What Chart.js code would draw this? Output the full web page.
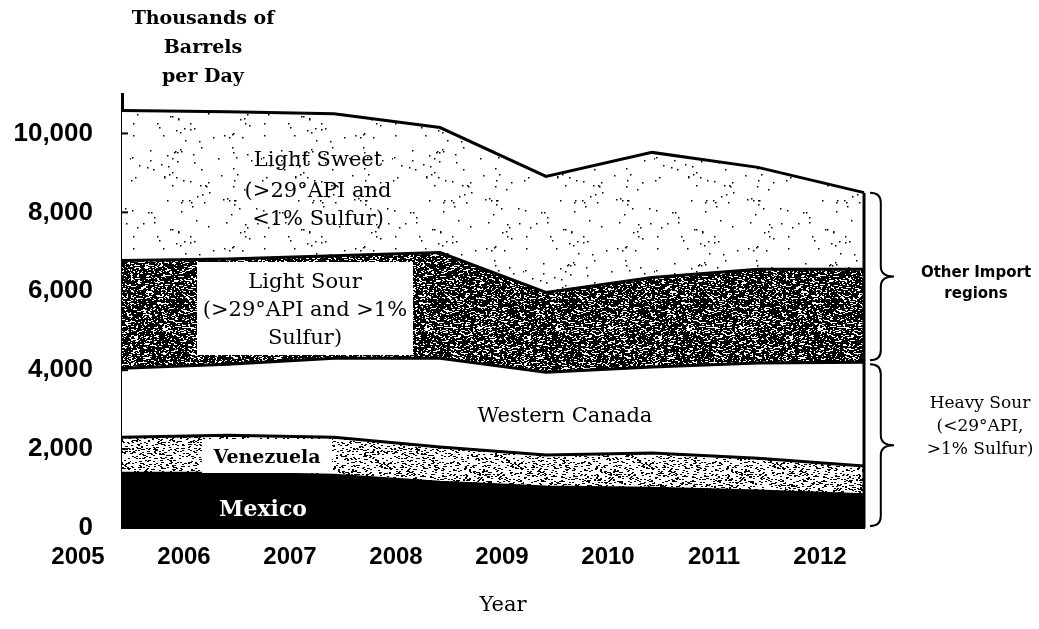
<!DOCTYPE html>
<html>
<head>
<meta charset="utf-8">
<script src="https://cdn.jsdelivr.net/npm/chart.js@4.4.0/dist/chart.umd.min.js"></script>
<style>
  body { margin: 0; background: #fff; }
  #wrap { width: 1039px; height: 629px; }
</style>
</head>
<body>
<div id="wrap"><canvas id="crudeChart" width="1039" height="629"></canvas></div>
<script>
// values, thousands of barrels per day
const years = ['2005', '2006', '2007', '2008', '2009', '2010', '2011', '2012'];
const mexico = [1390, 1390, 1340, 1160, 1040, 1010, 940, 840];
const venezuela = [910, 960, 960, 890, 810, 890, 830, 730];
const westernCanada = [1750, 1800, 2000, 2250, 2100, 2180, 2410, 2630];
const lightSour = [2730, 2670, 2600, 2680, 2020, 2270, 2380, 2360];
const lightSweet = [3800, 3730, 3600, 3170, 2940, 3170, 2580, 1940];

const yTicks = [0, 2000, 4000, 6000, 8000, 10000];
const yMax = 11000;

// stipple textures for the scanned look (seeded, so every run is the same)
function stipple(density, seed, w, h) {
  const c = document.createElement('canvas');
  c.width = 131; c.height = 113;
  const g = c.getContext('2d');
  g.fillStyle = '#fff';
  g.fillRect(0, 0, c.width, c.height);
  g.fillStyle = '#000';
  let s = seed >>> 0;
  function rnd() {
    s = (s + 0x6D2B79F5) >>> 0;
    let t = s;
    t = Math.imul(t ^ (t >>> 15), t | 1);
    t ^= t + Math.imul(t ^ (t >>> 7), t | 61);
    return ((t ^ (t >>> 14)) >>> 0) / 4294967296;
  }
  for (let y = 0; y < c.height; y++) {
    for (let x = 0; x < c.width; x++) {
      if (rnd() < density) g.fillRect(x, y, w, h);
    }
  }
  return g.createPattern(c, 'repeat');
}
const sweetFill = stipple(0.006, 7, 1.5, 1.5);
const sourFill = stipple(0.5, 11, 2, 1);
const venezFill = stipple(0.13, 3, 2, 1);

const serif = '"DejaVu Serif", "Liberation Serif", serif';
const sans = '"Liberation Sans", Arial, sans-serif';

function brace(ctx, x, y1, y2, w) {
  const mid = (y1 + y2) / 2;
  const r = 10;
  const sx = x + w * 0.45;
  ctx.beginPath();
  ctx.moveTo(x, y1);
  ctx.quadraticCurveTo(sx, y1, sx, y1 + r);
  ctx.lineTo(sx, mid - r);
  ctx.quadraticCurveTo(sx, mid, x + w, mid);
  ctx.quadraticCurveTo(sx, mid, sx, mid + r);
  ctx.lineTo(sx, y2 - r);
  ctx.quadraticCurveTo(sx, y2, x, y2);
  ctx.stroke();
}

const extras = {
  id: 'extras',
  afterDatasetsDraw(chart) {
    const ctx = chart.ctx;
    const xs = chart.scales.x, ys = chart.scales.y;
    ctx.save();
    // white label boxes
    ctx.fillStyle = '#fff';
    ctx.fillRect(197, 262, 216, 93);
    ctx.fillRect(202, 439, 130, 34);

    // right edge of the stack
    const last = years.length - 1;
    const total = mexico[last] + venezuela[last] + westernCanada[last] + lightSour[last] + lightSweet[last];
    const xr = xs.getPixelForValue(last);
    ctx.strokeStyle = '#000';
    ctx.lineWidth = 3;
    ctx.beginPath();
    ctx.moveTo(xr, ys.getPixelForValue(total));
    ctx.lineTo(xr, ys.getPixelForValue(0));
    ctx.stroke();

    // little inward ticks on the y axis
    ctx.lineWidth = 2;
    yTicks.forEach(v => {
      const y = ys.getPixelForValue(v);
      ctx.beginPath();
      ctx.moveTo(xs.left, y);
      ctx.lineTo(xs.left + 6, y);
      ctx.stroke();
    });

    // braces
    const heavyTop = mexico[last] + venezuela[last] + westernCanada[last];
    ctx.lineWidth = 2;
    brace(ctx, xr + 6, ys.getPixelForValue(total), ys.getPixelForValue(heavyTop) - 2, 24);
    brace(ctx, xr + 6, ys.getPixelForValue(heavyTop) + 2, ys.getPixelForValue(0) - 2, 24);

    // text
    ctx.fillStyle = '#000';
    ctx.textAlign = 'center';
    ctx.textBaseline = 'middle';
    ctx.font = 'bold 19px ' + serif;
    ctx.fillText('Thousands of', 203, 19);
    ctx.fillText('Barrels', 203, 48);
    ctx.fillText('per Day', 203, 77);

    ctx.font = '21px ' + serif;
    ctx.fillText('Light Sweet', 318, 161);
    ctx.fillText('(>29°API and', 318, 192);
    ctx.fillText('<1% Sulfur)', 318, 220);
    ctx.fillText('Light Sour', 305, 283);
    ctx.fillText('(>29°API and >1%', 305, 311);
    ctx.fillText('Sulfur)', 305, 339);
    ctx.fillText('Western Canada', 565, 417);
    ctx.fillText('Year', 503, 606);

    ctx.font = 'bold 19px ' + serif;
    ctx.fillText('Venezuela', 267, 458);
    ctx.fillStyle = '#fff';
    ctx.font = 'bold 22px ' + serif;
    ctx.fillText('Mexico', 263, 510);

    ctx.fillStyle = '#000';
    ctx.font = 'bold 15px "DejaVu Sans", sans-serif';
    ctx.fillText('Other Import', 976, 273);
    ctx.fillText('regions', 976, 294);
    ctx.font = '17px ' + serif;
    ctx.fillText('Heavy Sour', 980, 404);
    ctx.fillText('(<29°API,', 980, 427);
    ctx.fillText('>1% Sulfur)', 980, 450);
    ctx.restore();
  }
};

function layer(data, fill, bg) {
  return {
    data: data,
    fill: fill,
    backgroundColor: bg,
    borderColor: '#000',
    borderWidth: 3,
    pointRadius: 0,
    tension: 0,
    clip: false
  };
}

const ctx = document.getElementById('crudeChart');
const crudeChart = new Chart(ctx, {
  type: 'line',
  data: {
    labels: years,
    datasets: [
      layer(mexico, 'origin', '#000'),
      layer(venezuela, '-1', venezFill),
      layer(westernCanada, '-1', '#fff'),
      layer(lightSour, '-1', sourFill),
      layer(lightSweet, '-1', sweetFill)
    ]
  },
  options: {
    responsive: false,
    animation: false,
    layout: { padding: { top: 94, right: 175, left: 0, bottom: 0 } },
    plugins: { legend: { display: false }, tooltip: { enabled: false } },
    scales: {
      x: {
        offset: false,
        grid: { display: false, drawTicks: false },
        border: { display: true, color: '#000', width: 2 },
        ticks: {
          color: '#000',
          font: { family: sans, size: 24, weight: 'bold' },
          padding: 15,
          labelOffset: -44,
          autoSkip: false,
          maxRotation: 0
        },
        afterFit(scale) { scale.height = 101; }
      },
      y: {
        stacked: true,
        min: 0,
        max: yMax,
        grid: { display: false, drawTicks: false },
        border: { display: true, color: '#000', width: 3 },
        ticks: {
          autoSkip: false,
          color: '#000',
          padding: 29,
          font: { family: sans, size: 26, weight: 'bold' },
          callback: v => v.toLocaleString('en-US')
        },
        afterBuildTicks(scale) {
          scale.ticks = yTicks.map(v => ({ value: v }));
        },
        afterFit(scale) { scale.width = 122; }
      }
    }
  },
  plugins: [extras]
});
</script>
</body>
</html>
